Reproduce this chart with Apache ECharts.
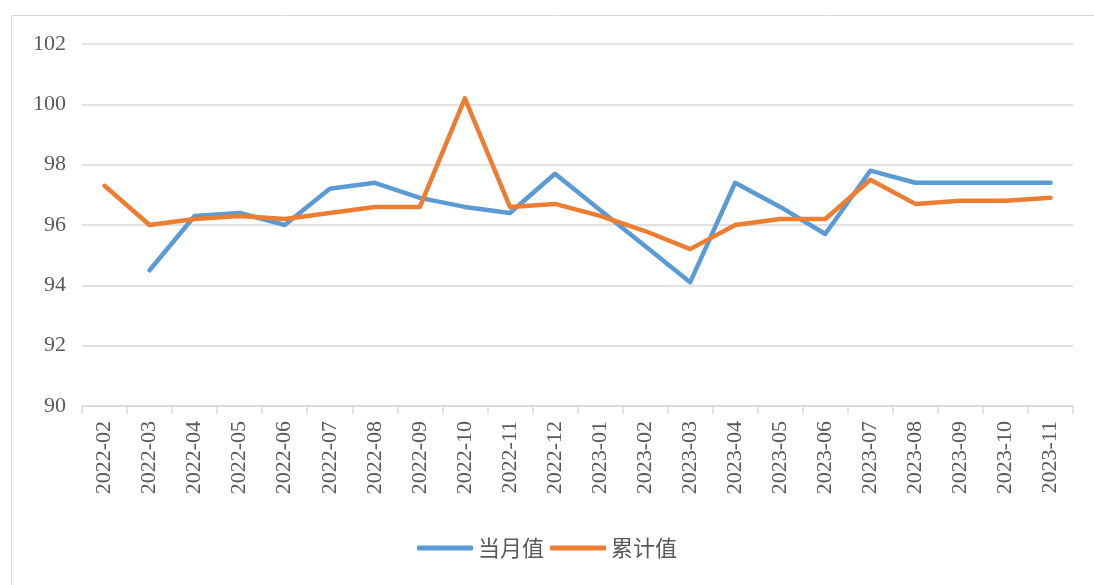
<!DOCTYPE html>
<html>
<head>
<meta charset="utf-8">
<script src="https://cdn.jsdelivr.net/npm/echarts@6/dist/echarts.min.js"></script>
<style>
  html,body{margin:0;padding:0;background:#fff;}
  #chart{width:1094px;height:585px;}
</style>
</head>
<body>
<div id="chart"></div>
<script>
  var months = ['2022-02','2022-03','2022-04','2022-05','2022-06','2022-07','2022-08','2022-09','2022-10','2022-11','2022-12',
                '2023-01','2023-02','2023-03','2023-04','2023-05','2023-06','2023-07','2023-08','2023-09','2023-10','2023-11'];
  // 当月值
  var monthly = [null,94.5,96.3,96.4,96.0,97.2,97.4,96.9,96.6,96.4,97.7,
                 96.5,95.3,94.1,97.4,96.6,95.7,97.8,97.4,97.4,97.4,97.4];
  // 累计值
  var cumulative = [97.3,96.0,96.2,96.3,96.2,96.4,96.6,96.6,100.2,96.6,96.7,
                    96.3,95.8,95.2,96.0,96.2,96.2,97.5,96.7,96.8,96.8,96.9];

  var myChart = echarts.init(document.getElementById('chart'));

  var option = {
    backgroundColor: '#fff',
    animation: false,
    graphic: [{
      type: 'rect',
      shape: {x: 11.5, y: 15.5, width: 1200, height: 700},
      style: {fill: 'none', stroke: '#d9d9d9', lineWidth: 1},
      silent: true
    }],
    grid: {left: 82, right: 21, top: 44, bottom: 179},
    legend: {
      bottom: 21,
      left: 'center',
      icon: 'roundRect',
      itemWidth: 56,
      itemHeight: 5,
      itemGap: 6,
      textStyle: {fontSize: 22, color: '#595959', fontFamily: 'Noto Sans CJK SC'},
      data: ['当月值', '累计值']
    },
    xAxis: {
      type: 'category',
      data: months,
      boundaryGap: true,
      axisLine: {lineStyle: {color: '#d9d9d9', width: 1.5}},
      axisTick: {show: true, length: 8, lineStyle: {color: '#d9d9d9', width: 1.5}},
      axisLabel: {
        rotate: 90,
        interval: 0,
        margin: 15,
        fontSize: 22,
        color: '#595959',
        fontFamily: 'Liberation Serif'
      }
    },
    yAxis: {
      type: 'value',
      min: 90,
      max: 102,
      interval: 2,
      axisLine: {show: false},
      axisTick: {show: false},
      splitLine: {lineStyle: {color: '#d9d9d9', width: 1.5}},
      axisLabel: {
        fontSize: 22,
        color: '#595959',
        margin: 16,
        fontFamily: 'Liberation Serif'
      }
    },
    series: [
      {
        name: '当月值',
        type: 'line',
        data: monthly,
        showSymbol: false,
        symbol: 'none',
        connectNulls: false,
        lineStyle: {color: '#5B9BD5', width: 4.5, cap: 'round', join: 'round'},
        itemStyle: {color: '#5B9BD5'}
      },
      {
        name: '累计值',
        type: 'line',
        data: cumulative,
        showSymbol: false,
        symbol: 'none',
        lineStyle: {color: '#ED7D31', width: 4.5, cap: 'round', join: 'round'},
        itemStyle: {color: '#ED7D31'}
      }
    ]
  };

  myChart.setOption(option);
</script>
</body>
</html>
